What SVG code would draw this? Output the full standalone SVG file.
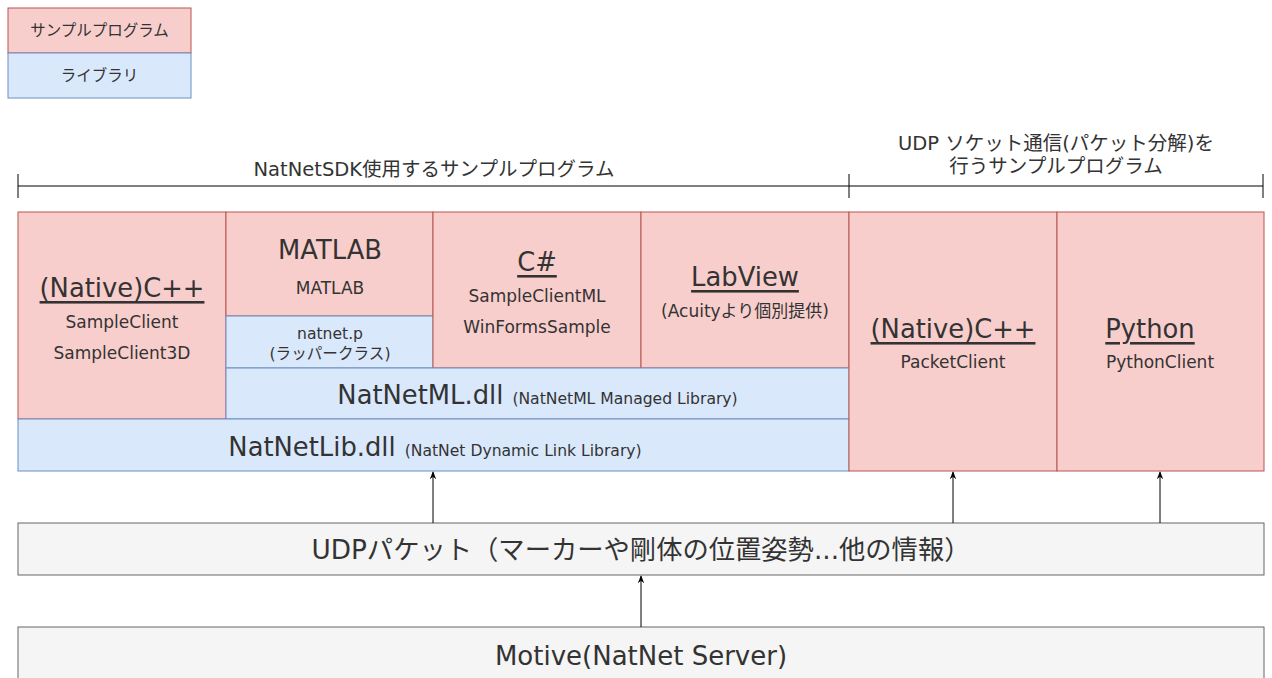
<svg xmlns="http://www.w3.org/2000/svg" width="1272" height="678" viewBox="0 0 1272 678">
<defs>
<style>
.pk{fill:#f8cecc;stroke:#b85450;stroke-width:1}
.bl{fill:#dae8fc;stroke:#6c8ebf;stroke-width:1}
.gr{fill:#f5f5f5;stroke:#666666;stroke-width:1}
text{font-family:"DejaVu Sans","Noto Sans CJK JP",sans-serif;fill:#333333;text-anchor:middle;dominant-baseline:central}
.big{font-size:25.8px}
.sm{font-size:17px}
.xs{font-size:15.6px}
.hd{font-size:19.5px}
.lg{font-size:15.5px}
.u{text-decoration:underline}
.ab{dominant-baseline:alphabetic}
.ln{stroke:#000000;stroke-width:1;fill:none}
</style>
<marker id="ah" viewBox="0 0 10 10" refX="9" refY="5" markerWidth="8" markerHeight="8" orient="auto" markerUnits="userSpaceOnUse">
<path d="M0,1 L10,5 L0,9 L3,5 Z" fill="#000000"/>
</marker>
</defs>
<rect width="1272" height="678" fill="#ffffff"/>
<g id="legend">
<rect class="pk" x="8" y="8" width="183" height="45"/>
<text class="lg" x="99.5" y="31">サンプルプログラム</text>
<rect class="bl" x="8" y="53" width="183" height="45"/>
<text class="lg" x="99.5" y="76">ライブラリ</text>
</g>
<g id="brackets">
<line class="ln" x1="18" y1="186" x2="1263" y2="186"/>
<line class="ln" x1="18" y1="174" x2="18" y2="198"/>
<line class="ln" x1="849" y1="174" x2="849" y2="198"/>
<line class="ln" x1="1263" y1="174" x2="1263" y2="198"/>
<text class="hd" x="434" y="169">NatNetSDK使用するサンプルプログラム</text>
<text class="hd" x="1056" y="143">UDP ソケット通信(パケット分解)を</text>
<text class="hd" x="1056" y="166">行うサンプルプログラム</text>
</g>
<g id="native-cpp">
<rect class="pk" x="18" y="212" width="208" height="207"/>
<text class="big u" x="122" y="288">(Native)C++</text>
<text class="sm" x="122" y="322">SampleClient</text>
<text class="sm" x="122" y="353">SampleClient3D</text>
</g>
<g id="matlab">
<rect class="pk" x="226" y="212" width="207" height="104"/>
<text class="big" x="330" y="250">MATLAB</text>
<text class="sm" x="330" y="288">MATLAB</text>
</g>
<g id="natnet-p">
<rect class="bl" x="226" y="316" width="207" height="52"/>
<text class="xs" x="330" y="334">natnet.p</text>
<text class="xs" x="330" y="354">(ラッパークラス)</text>
</g>
<g id="csharp">
<rect class="pk" x="433" y="212" width="208" height="156"/>
<text class="big u" x="537" y="262">C#</text>
<text class="sm" x="537" y="296">SampleClientML</text>
<text class="sm" x="537" y="327">WinFormsSample</text>
</g>
<g id="labview">
<rect class="pk" x="641" y="212" width="208" height="156"/>
<text class="big u" x="745" y="277">LabView</text>
<text class="sm" x="745" y="311">(Acuityより個別提供)</text>
</g>
<g id="natnetml">
<rect class="bl" x="226" y="368" width="623" height="51"/>
<text class="ab" x="537.5" y="404"><tspan class="big">NatNetML.dll</tspan><tspan class="xs" dx="9">(NatNetML Managed Library)</tspan></text>
</g>
<g id="natnetlib">
<rect class="bl" x="18" y="419" width="831" height="52"/>
<text class="ab" x="435" y="456"><tspan class="big">NatNetLib.dll</tspan><tspan class="xs" dx="9">(NatNet Dynamic Link Library)</tspan></text>
</g>
<g id="packet-cpp">
<rect class="pk" x="849" y="212" width="208" height="259"/>
<text class="big u" x="953" y="329">(Native)C++</text>
<text class="sm" x="953" y="362">PacketClient</text>
</g>
<g id="python">
<rect class="pk" x="1057" y="212" width="207" height="259"/>
<text class="big u" x="1150" y="329">Python</text>
<text class="sm" x="1160" y="362">PythonClient</text>
</g>
<g id="udp">
<rect class="gr" x="18" y="523" width="1246" height="52"/>
<text class="big" x="641" y="550" style="font-size:26.3px">UDPパケット（マーカーや剛体の位置姿勢...他の情報）</text>
</g>
<g id="motive">
<rect class="gr" x="18" y="627" width="1246" height="60"/>
<text class="big" x="641" y="656" style="font-size:26px">Motive(NatNet Server)</text>
</g>
<g id="connectors">
<line class="ln" x1="433" y1="523" x2="433" y2="472" marker-end="url(#ah)"/>
<line class="ln" x1="953" y1="523" x2="953" y2="472" marker-end="url(#ah)"/>
<line class="ln" x1="1160" y1="523" x2="1160" y2="472" marker-end="url(#ah)"/>
<line class="ln" x1="641" y1="627" x2="641" y2="576" marker-end="url(#ah)"/>
</g>
</svg>
